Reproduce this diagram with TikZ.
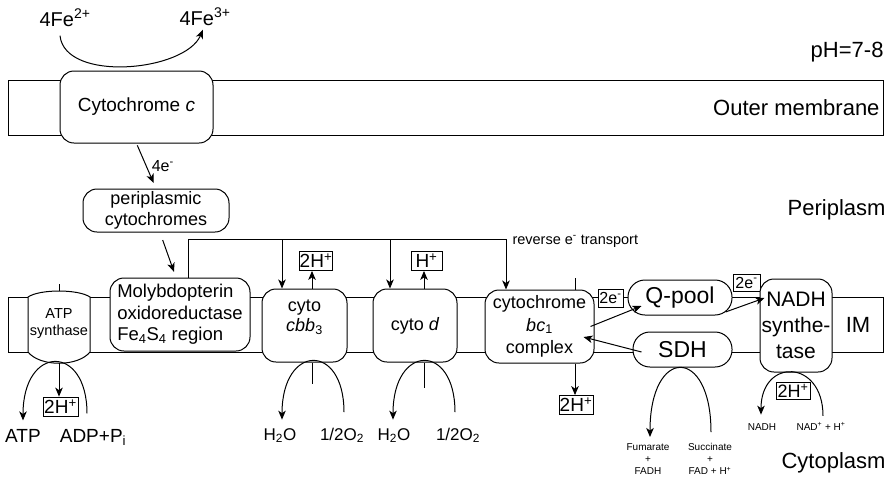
\documentclass[tikz,border=0pt]{standalone}
\usepackage{fontspec}
\setmainfont{Liberation Sans}
\usetikzlibrary{arrows.meta,positioning}

\newcommand{\tsub}[1]{\textsubscript{#1}}
\newcommand{\tsup}[1]{\textsuperscript{#1}}
\newcommand{\fsz}[2]{\fontsize{#1}{#2}\selectfont}

\tikzset{
  arr/.style={-{Stealth[length=9pt,width=7.5pt,inset=2.5pt]}},
  pbox/.style={draw,fill=white,rounded corners=14pt,align=center,inner sep=0pt},
  pill/.style={pbox,rounded corners=17pt},
  membrane/.style={draw,inner sep=0pt,minimum width=875pt,minimum height=55pt},
  hbox/.style={draw,fill=white,line width=0.8pt,inner sep=0.5pt,minimum width=32pt,minimum height=19pt,font=\fsz{19}{20}},
  ebox/.style={draw,fill=white,line width=0.8pt,inner sep=0.5pt,minimum width=25pt,minimum height=18pt,font=\fsz{16}{17}},
  lbl/.style={inner sep=0pt,align=center},
}

\begin{document}
\begin{tikzpicture}[x=1pt,y=-1pt,line width=1pt]
    \useasboundingbox (0,0) rectangle (892,483);
    % membranes and regions
    \node[membrane] (outer) at (445.5,107.5) {};
    \node[membrane] (inner) at (445.5,324.5) {};
    \node[lbl,anchor=east,font=\fsz{22}{24}] (ph) at (884,52) {pH=7-8};
    \node[lbl,anchor=east,font=\fsz{22}{24}] (omtxt) at (880,108) {Outer membrane};
    \node[lbl,anchor=east,font=\fsz{22}{24}] (peritxt) at (886,210) {Periplasm};
    \node[lbl,anchor=east,font=\fsz{22}{24}] (cytotxt) at (886,463) {Cytoplasm};
    \node[lbl,font=\fsz{22}{24}] (imtxt) at (858,325) {IM};

    % iron oxidation at the outer membrane
    \node[lbl,anchor=base,font=\fsz{20}{22}] (fetwo) at (65,26) {4Fe\tsup{2+}};
    \node[lbl,anchor=base,font=\fsz{20}{22}] (fethree) at (205,25) {4Fe\tsup{3+}};
    \node[pbox,minimum width=153pt,minimum height=72pt,font=\fsz{19}{21}] (cytc) at (136.5,107) {Cytochrome \textit{c}};
    \draw[arr] ([xshift=-5pt,yshift=-9pt]fetwo.south) .. controls +(5,47) and +(-18,42) .. ([xshift=-2pt,yshift=-4pt]fethree.south);
    \node[pbox,minimum width=146pt,minimum height=43pt,font=\fsz{18}{21}] (peri) at (156,210.5) {periplasmic\\cytochromes};
    \draw[arr,shorten <=2pt,shorten >=6pt] (cytc.south) -- (peri.north) node[lbl,midway,right=5pt,font=\fsz{16}{18}] (foure) {4e\tsup{-}};

    % inner membrane complexes
    \node[pbox,align=left,minimum width=140pt,minimum height=73pt,font=\fsz{18.5}{21.5}] (moly) at (180,314.5) {Molybdopterin\\oxidoreductase\\Fe\tsub{4}S\tsub{4} region};
    \draw[arr,shorten <=8pt,shorten >=6pt] ([xshift=4pt]peri.south) -- ([xshift=-4pt]moly.north);

    \draw[fill=white] (28,297) .. controls (40,289) and (78,289) .. (90,297) -- (90,352) .. controls (78,367) and (40,367) .. (28,352) -- cycle;
    \node[lbl,font=\fsz{14.5}{17}] (atps) at (59,324) {ATP\\synthase};
    \coordinate (atptop) at (59,291);
    \coordinate (atpbot) at (59,363);
    \draw (atptop) -- ++(0,-7);

    \node[pbox,minimum width=85pt,minimum height=73pt] (cbb) at (304.5,325.5) {};
    \node[lbl,font=\fsz{18}{20}] (cbbtxt) at (304.5,317) {cyto\\\textit{cbb}\tsub{3}};
    \node[pbox,minimum width=84pt,minimum height=73pt,font=\fsz{18}{20}] (cytd) at (415,325.5) {cyto \textit{d}};
    \node[pbox,minimum width=109pt,minimum height=73pt,font=\fsz{18}{22.5}] (bcone) at (539.5,326.5) {cytochrome\\\textit{bc}\tsub{1}\\complex};
    \node[ebox] (eone) at (610.5,298) {2e\tsup{-}};
    \node[pill,minimum width=104pt,minimum height=35pt,font=\fsz{23}{25}] (qpool) at (680,297.5) {Q-pool};
    \node[pill,minimum width=99pt,minimum height=35pt,font=\fsz{23}{25}] (sdh) at (682.5,349.5) {SDH};
    \node[ebox,minimum width=27pt,minimum height=17pt] (etwo) at (746.5,282.5) {2e\tsup{-}};
    \node[pbox,minimum width=72pt,minimum height=93pt,font=\fsz{21}{26}] (nadh) at (796,325.5) {NADH\\synthe-\\tase};

    % reverse electron transport
    \coordinate (revtop) at (188,239);
    \draw[arr] ([xshift=8pt]moly.north) -- (revtop) -| ([xshift=-33.5pt]bcone.north);
    \draw[arr] ([xshift=-22.5pt]cbb.north |- revtop) -- ([xshift=-22.5pt]cbb.north);
    \draw[arr] ([xshift=-25pt]cytd.north |- revtop) -- ([xshift=-25pt]cytd.north);
    \node[lbl,anchor=west,font=\fsz{14.5}{16}] (revtxt) at (512,241) {reverse e\tsup{-} transport};

    % protons
    \node[hbox] (hcbb) at (316,261) {2H\tsup{+}};
    \draw[arr] ([xshift=7.5pt]cbb.north) -- ([xshift=7.5pt]cbb.north |- hcbb.south);
    \node[hbox,minimum width=31pt] (hcytd) at (426.5,261) {H\tsup{+}};
    \draw[arr] ([xshift=9pt]cytd.north) -- ([xshift=9pt]cytd.north |- hcytd.south);
    \draw ([xshift=35.5pt]bcone.north) -- ++(0,-12);
    \node[hbox,minimum width=34pt] (hbc) at (576,405) {2H\tsup{+}};
    \draw[arr] ([xshift=35.5pt]bcone.south) -- ([xshift=35.5pt]bcone.south |- hbc.north);
    \node[hbox,minimum width=35pt] (hatp) at (60.5,406.5) {2H\tsup{+}};
    \draw[arr] (atpbot) -- (atpbot |- hatp.north);

    % electrons
    \draw[arr] ([xshift=-4pt]bcone.east) -- ([xshift=14pt,yshift=-8.5pt]qpool.west);
    \draw[arr] ([xshift=9pt,yshift=-2.5pt]sdh.west) -- ([xshift=-11pt,yshift=-10.5pt]bcone.east);
    \draw[arr] ([xshift=-7pt,yshift=-14.5pt]qpool.east) -- ([xshift=5pt,yshift=27.5pt]nadh.west);

    % cytoplasmic reactions
    \node[lbl,anchor=base,font=\fsz{19}{21}] (atpout) at (23,442) {ATP};
    \node[lbl,anchor=base,font=\fsz{19}{21}] (adpin) at (93,442) {ADP+P\tsub{i}};
    \draw[arr] ([xshift=-6pt,yshift=15pt]adpin.north) .. controls +(0,-70) and +(0,-76) .. ([yshift=8pt]atpout.north);

    \node[lbl,anchor=base,font=\fsz{17}{19}] (h2oa) at (280,440) {H\tsub{2}O};
    \node[lbl,anchor=base,font=\fsz{17}{19}] (halfoa) at (342,440) {1/2O\tsub{2}};
    \draw ([xshift=7.5pt]cbb.south) -- ++(0,21);
    \draw[arr] ([xshift=2pt,yshift=15pt]halfoa.north) .. controls +(0,-70) and +(0,-76) .. ([xshift=2pt,yshift=8pt]h2oa.north);

    \node[lbl,anchor=base,font=\fsz{17}{19}] (h2ob) at (394,440) {H\tsub{2}O};
    \node[lbl,anchor=base,font=\fsz{17}{19}] (halfob) at (458,440) {1/2O\tsub{2}};
    \draw ([xshift=9pt]cytd.south) -- ++(0,25);
    \draw[arr] ([xshift=-3pt,yshift=15pt]halfob.north) .. controls +(0,-70) and +(0,-76) .. ([xshift=-1pt,yshift=8pt]h2ob.north);

    \node[lbl,anchor=north,font=\fsz{10}{12}] (fum) at (648,443) {Fumarate\\+\\FADH};
    \node[lbl,anchor=north,font=\fsz{10}{12}] (succ) at (710,443) {Succinate\\+\\FAD + H\tsup{+}};
    \draw[arr] ([xshift=1pt,yshift=11pt]succ.north) .. controls +(0,-86) and +(0,-91) .. ([xshift=2pt,yshift=6pt]fum.north);

    \node[lbl,anchor=base,font=\fsz{10}{12}] (nadhout) at (762,430) {NADH};
    \node[lbl,anchor=base,font=\fsz{10}{12}] (nadin) at (821,430) {NAD\tsup{+} + H\tsup{+}};
    \draw[arr] ([xshift=2pt,yshift=6pt]nadin.north) .. controls +(0,-57) and +(0,-57) .. ([xshift=-1pt,yshift=8pt]nadhout.north);
    \node[hbox,minimum width=34pt,minimum height=17pt,font=\fsz{18}{19}] (hnadh) at (793,390.5) {2H\tsup{+}};
\end{tikzpicture}
\end{document}
